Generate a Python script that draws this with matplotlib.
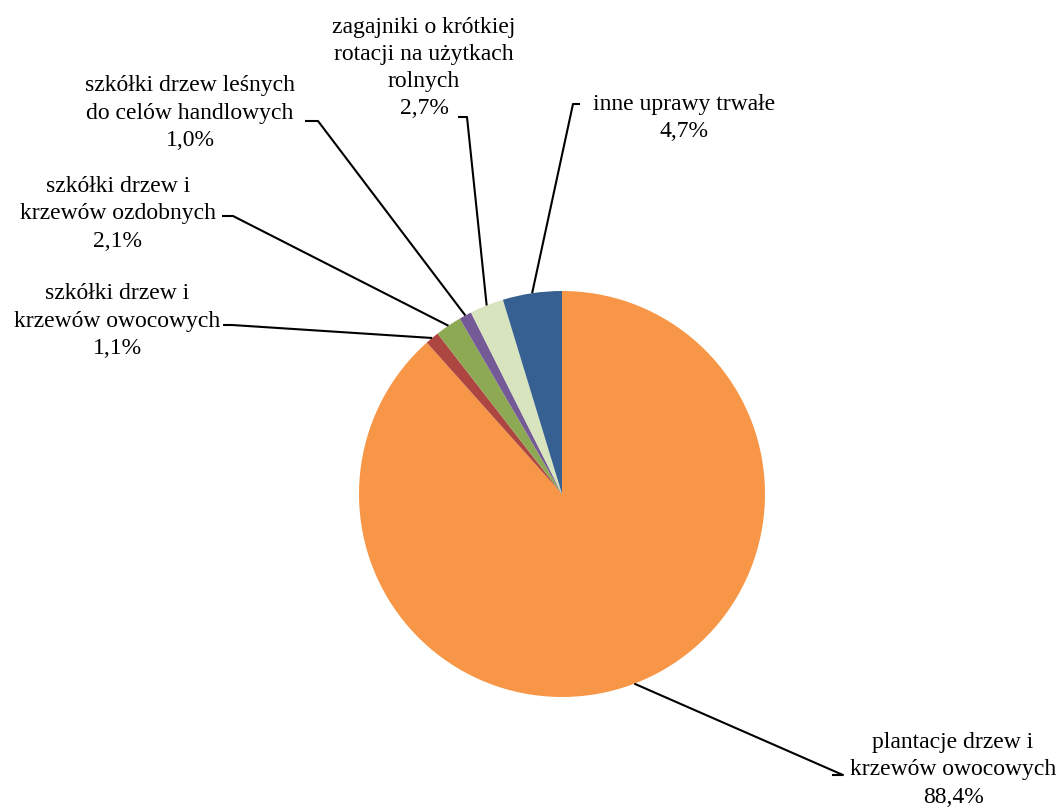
import matplotlib
matplotlib.use("Agg")
import matplotlib.pyplot as plt
import numpy as np

labels = ["plantacje drzew i\nkrzewów owocowych",
          "szkółki drzew i\nkrzewów owocowych",
          "szkółki drzew i\nkrzewów ozdobnych",
          "szkółki drzew leśnych\ndo celów handlowych",
          "zagajniki o krótkiej\nrotacji na użytkach\nrolnych",
          "inne uprawy trwałe"]
values = [88.4, 1.1, 2.1, 1.0, 2.7, 4.7]
pct_labels = ["88,4%", "1,1%", "2,1%", "1,0%", "2,7%", "4,7%"]
colors = ["#F79646", "#AD4541", "#8EA954", "#745A96", "#D8E4BE", "#366092"]

# layout (pixel coordinates, y measured from top)
W, H = 1063, 808
cx, cy, R = 562, 494, 203
text_pos = [(953, 770), (117, 321), (118, 214), (190, 113), (424, 68), (684, 118)]
elbow = [((843, 775), (832, 775)),
         ((232, 325), (223, 325)),
         ((233, 216), (222, 216)),
         ((318, 121), (305, 121)),
         ((467, 117), (458, 117)),
         ((573, 104), (580, 104))]

fig = plt.figure(figsize=(W / 100, H / 100), dpi=100)
ax = fig.add_axes([0, 0, 1, 1])

wedges, _ = ax.pie(values, colors=colors, startangle=90, counterclock=False,
                   center=(cx, H - cy), radius=R,
                   wedgeprops=dict(linewidth=0))
ax.set_xlim(0, W)
ax.set_ylim(0, H)
ax.set_aspect("equal")
ax.axis("off")

for w, lab, pl, (tx, ty), (e1, e2) in zip(wedges, labels, pct_labels, text_pos, elbow):
    mid = np.deg2rad((w.theta1 + w.theta2) / 2)
    ax_x = cx + R * np.cos(mid)
    ax_y = (H - cy) + R * np.sin(mid)
    ax.plot([ax_x, e1[0], e2[0]], [ax_y, H - e1[1], H - e2[1]],
            color="black", lw=1.5, solid_capstyle="butt")
    ax.text(tx, H - ty, lab + "\n" + pl, ha="center", va="center",
            fontsize=17, family="Liberation Serif", linespacing=1.38,
            color="black")

fig.savefig("out.png", dpi=100)
